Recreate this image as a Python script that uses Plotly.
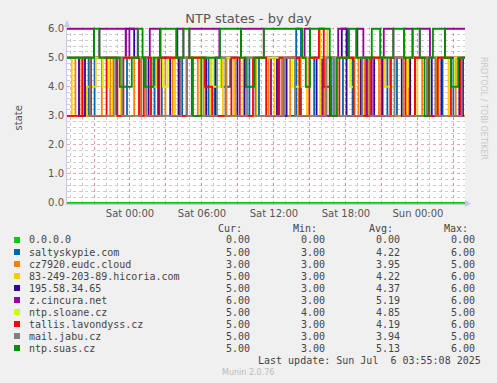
import pandas as pd
import plotly.graph_objects as go

START = pd.Timestamp("2025-07-04 18:45")
END_H = 33.17

names = ["0.0.0.0", "saltyskypie.com", "cz7920.eudc.cloud", "83-249-203-89.hicoria.com",
         "195.58.34.65", "z.cincura.net", "ntp.sloane.cz", "tallis.lavondyss.cz",
         "mail.jabu.cz", "ntp.suas.cz"]
colors = ["#00CC00", "#0066B3", "#FF8000", "#FFCC00", "#330099", "#990099",
          "#CCFF00", "#FF0000", "#808080", "#008F00"]

# step change points: hours since start, value
zero_t = [0, END_H]
zero_v = [0, 0]

blue_t = [0, 1.8, 2.3, 4.1, 5.0, 7.3, 7.9, 9.6, 10.4, 11.8, 12.3, 12.9, 13.6, 15.2, 16.0, 18.0, 19.1, 19.5, 20.6, 22.2, 23.0, 23.8, 24.9, 26.7, 27.5, 29.0, 30.0, 31.3, 32.2]
blue_v = [5, 3, 5, 3, 5, 3, 5, 3, 5, 3, 5, 4, 5, 3, 5, 3, 6, 3, 5, 3, 5, 3, 5, 3, 5, 3, 5, 3, 5]

orange_t = [0, 0.7, 1.2, 2.9, 3.6, 5.6, 6.1, 8.2, 8.8, 10.9, 11.4, 13.3, 14.0, 16.8, 17.9, 18.6, 19.3, 21.5, 22.4, 24.3, 24.8, 26.0, 26.9, 28.5, 29.6, 30.8, 32.4]
orange_v = [3, 5, 3, 5, 3, 5, 3, 5, 3, 5, 3, 5, 3, 5, 3, 5, 3, 5, 3, 5, 3, 5, 3, 5, 3, 5, 3]

yellow_t = [0, 0.4, 1.6, 2.4, 3.8, 4.5, 6.6, 7.0, 7.5, 9.0, 9.9, 11.1, 12.0, 13.0, 13.9, 14.7, 15.8, 17.3, 18.2, 20.0, 21.1, 21.7, 22.3, 24.0, 25.1, 26.5, 27.3, 28.3, 29.2, 31.0, 31.8]
yellow_v = [5, 3, 4, 5, 3, 5, 3, 4, 5, 3, 5, 3, 5, 3, 5, 3, 5, 3, 5, 3, 6, 3, 5, 3, 5, 4, 5, 3, 5, 3, 5]

indigo_t = [0, 1.0, 1.5, 4.9, 5.6, 6.8, 7.6, 8.6, 9.3, 11.6, 12.4, 14.2, 14.8, 17.5, 18.3, 20.8, 21.3, 22.9, 23.3, 24.5, 25.6, 26.3, 27.9, 28.6, 30.4, 31.2, 32.7, 33.0]
indigo_v = [5, 3, 5, 6, 5, 3, 5, 3, 5, 3, 5, 3, 5, 3, 5, 3, 5, 6, 3, 5, 3, 5, 3, 5, 3, 5, 3, 5]

purple_t = [0, 2.25, 2.7, 4.9, 5.2, 5.9, 6.9, 7.75, 9.2, 9.7, 10.2, 12.7, 14.5, 16.4, 17.0, 17.6, 19.8, 20.25, 21.3, 21.9, 22.6, 23.4, 24.2, 24.7, 25.0, 25.4, 26.4, 27.2, 28.1, 28.8, 29.4, 30.25, 31.5]
purple_v = [6, 5, 6, 5, 6, 5, 6, 5, 6, 5, 6, 5, 6, 5, 3, 5, 6, 5, 3, 5, 6, 5, 6, 5, 3, 5, 6, 5, 6, 5, 6, 5, 6]

lime_t = [0, 3.0, 3.5, 8.0, 8.4, 12.2, 12.8, 18.8, 19.5, 23.6, 24.0, 28.0, 28.4, 31.9, 32.3]
lime_v = [5, 4, 5, 4, 5, 4, 5, 4, 5, 4, 5, 4, 5, 4, 5]

red_t = [0, 1.3, 2.0, 3.3, 4.2, 4.7, 6.0, 6.4, 7.0, 7.7, 9.4, 10.0, 11.5, 12.1, 13.7, 14.4, 15.5, 16.6, 17.7, 19.4, 20.2, 21.0, 21.4, 22.0, 22.7, 23.9, 25.3, 26.2, 27.0, 28.2, 29.0, 30.1, 30.9, 32.0, 32.8]
red_v = [3, 5, 3, 5, 3, 5, 3, 5, 3, 5, 3, 5, 4, 3, 5, 3, 5, 3, 5, 3, 5, 6, 4, 3, 5, 3, 5, 3, 5, 3, 5, 3, 5, 3, 5]

gray_t = [0, 1.9, 3.9, 4.6, 6.2, 6.6, 9.5, 10.0, 12.5, 13.2, 15.0, 15.7, 18.1, 19.0, 21.6, 22.3, 24.6, 25.2, 27.3, 28.0, 30.0, 30.7, 32.9]
gray_v = [5, 3, 5, 3, 5, 3, 5, 3, 5, 3, 5, 3, 5, 3, 5, 3, 5, 3, 5, 3, 5, 3, 5]

green_t = [0, 2.25, 2.7, 4.4, 5.4, 5.9, 6.3, 6.5, 7.2, 7.8, 9.1, 9.7, 10.2, 10.5, 11.2, 12.75, 14.5, 14.9, 15.6, 16.4, 19.6, 19.9, 20.25, 21.9, 22.0, 22.5, 23.5, 24.1, 25.4, 26.1, 27.2, 28.1, 28.8, 29.4, 29.8, 30.2, 30.5, 31.5, 32.0, 32.6]
green_v = [5, 6, 5, 4, 5, 6, 5, 4, 5, 6, 5, 6, 5, 3, 5, 6, 5, 4, 5, 6, 5, 4, 6, 5, 3, 5, 6, 5, 6, 5, 6, 5, 6, 5, 3, 5, 6, 5, 4, 5]

series_t = [zero_t, blue_t, orange_t, yellow_t, indigo_t, purple_t, lime_t, red_t, gray_t, green_t]
series_v = [zero_v, blue_v, orange_v, yellow_v, indigo_v, purple_v, lime_v, red_v, gray_v, green_v]

cur = ["0.00", "5.00", "3.00", "5.00", "5.00", "6.00", "5.00", "5.00", "5.00", "5.00"]
mins = ["0.00", "3.00", "3.00", "3.00", "3.00", "3.00", "4.00", "3.00", "3.00", "3.00"]
avgs = ["0.00", "4.22", "3.95", "4.22", "4.37", "5.19", "4.85", "4.19", "3.94", "5.13"]
maxs = ["0.00", "6.00", "5.00", "6.00", "6.00", "6.00", "5.00", "6.00", "5.00", "6.00"]

W, H = 497, 383
L, R, T, B = 67, 465, 27, 204

def px(x):
    return (x - L) / (R - L)

def py(y):
    return (B - y) / (B - T)

fig = go.Figure()
for n, c, ts, vs in zip(names, colors, series_t, series_v):
    t = list(ts)
    v = list(vs)
    if t[-1] < END_H:
        t.append(END_H)
        v.append(v[-1])
    x = [START + pd.Timedelta(hours=h) for h in t]
    fig.add_trace(go.Scatter(x=x, y=v, mode="lines", line=dict(color=c, width=1.8, shape="hv"),
                             name=n, showlegend=False, hoverinfo="skip"))

end_ts = START + pd.Timedelta(hours=END_H)
major = pd.date_range("2025-07-04 21:00", "2025-07-06 03:00", freq="3h")
ticktext = [d.strftime("%a %H:%M") if d.hour % 6 == 0 else "" for d in major]

fig.update_layout(
    width=W, height=H,
    margin=dict(l=L, r=W - R, t=T, b=H - B),
    paper_bgcolor="#F0F0F0", plot_bgcolor="#FFFFFF",
    font=dict(family="DejaVu Sans", size=10, color="#555555"),
    title=dict(text="NTP states - by day", x=0.5, xref="container", xanchor="center",
               y=1 - 18 / H, yref="container", yanchor="middle",
               font=dict(family="DejaVu Sans", size=13, color="#555555")),
    xaxis=dict(range=[START, end_ts], type="date", tickvals=list(major), ticktext=ticktext,
               showgrid=True, gridcolor="rgba(230,110,110,0.6)", griddash="dot", gridwidth=1,
               minor=dict(dtick=3600000, tick0="2025-07-05 00:00", showgrid=True,
                          gridcolor="rgba(170,170,170,0.6)", griddash="dot", gridwidth=1),
               showline=True, linecolor="#C8C8EE", linewidth=1, zeroline=False, ticks="",
               automargin=False, tickfont=dict(size=10, color="#555555")),
    yaxis=dict(range=[-0.04, 6.06], tick0=0, dtick=1, tickformat=".1f",
               showgrid=True, gridcolor="rgba(230,110,110,0.6)", griddash="dot", gridwidth=1,
               minor=dict(dtick=0.2, showgrid=True, gridcolor="rgba(170,170,170,0.6)",
                          griddash="dot", gridwidth=1),
               showline=True, linecolor="#C8C8EE", linewidth=1, zeroline=False, ticks="",
               automargin=False, tickfont=dict(size=10, color="#555555")),
)

ann = []
ann.append(dict(text="state", x=px(10), y=py(118), xref="paper", yref="paper", textangle=-90,
                showarrow=False, font=dict(family="DejaVu Sans", size=10, color="#555555")))
ann.append(dict(text="RRDTOOL / TOBI OETIKER", x=px(490), y=py(55), xref="paper", yref="paper",
                textangle=90, showarrow=False, font=dict(family="DejaVu Sans", size=8, color="#C8C8C8")))

mono = dict(family="DejaVu Sans Mono", size=10, color="#444444")
for hdr, xr in zip(["Cur:", "Min:", "Avg:", "Max:"], [244, 319, 395, 470]):
    ann.append(dict(text=hdr, x=px(xr), y=py(228), xref="paper", yref="paper", xanchor="right",
                    yanchor="middle", showarrow=False, font=mono))

shapes = []
for i, (n, c) in enumerate(zip(names, colors)):
    yy = 240 + 12 * i
    shapes.append(dict(type="rect", xref="paper", yref="paper", x0=px(14), x1=px(20),
                       y0=py(yy + 3), y1=py(yy - 3), fillcolor=c, line=dict(width=0)))
    ann.append(dict(text=n, x=px(27), y=py(yy), xref="paper", yref="paper", xanchor="left",
                    yanchor="middle", showarrow=False, font=mono))
    for val, xr in zip([cur[i], mins[i], avgs[i], maxs[i]], [252, 327, 402, 477]):
        ann.append(dict(text=val, x=px(xr), y=py(yy), xref="paper", yref="paper", xanchor="right",
                        yanchor="middle", showarrow=False, font=mono))

ann.append(dict(text="Last update:\u00a0Sun Jul\u00a0\u00a06 03:55:08 2025",
                x=px(483), y=py(360), xref="paper", yref="paper", xanchor="right", yanchor="middle",
                showarrow=False, font=mono))
ann.append(dict(text="Munin 2.0.76", x=px(248), y=py(372), xref="paper", yref="paper",
                xanchor="center", yanchor="middle", showarrow=False,
                font=dict(family="DejaVu Sans", size=8, color="#BBBBBB")))

# axis arrows
shapes.append(dict(type="path", xref="paper", yref="paper",
                   path=f"M {px(64)} {py(27)} L {px(70)} {py(27)} L {px(67)} {py(20)} Z",
                   fillcolor="#C8C8EE", line=dict(width=0)))
shapes.append(dict(type="path", xref="paper", yref="paper",
                   path=f"M {px(465)} {py(200)} L {px(465)} {py(207)} L {px(471)} {py(203.5)} Z",
                   fillcolor="#C8C8EE", line=dict(width=0)))

fig.update_layout(annotations=ann, shapes=shapes)
fig.write_html("out.html", config={"displayModeBar": False},
               post_script="document.body.style.margin='0';document.body.style.background='#F0F0F0';")
